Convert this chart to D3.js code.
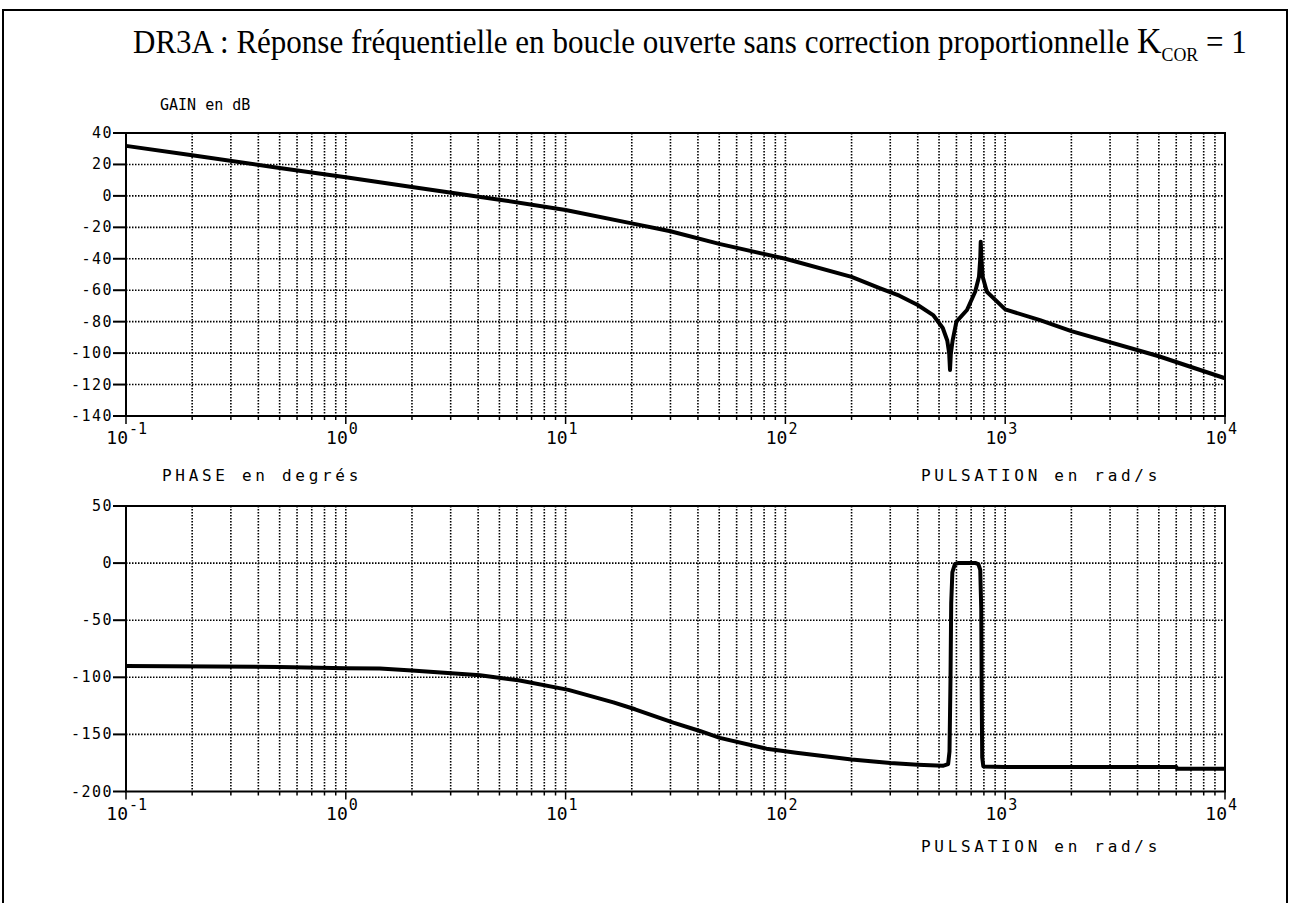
<!DOCTYPE html>
<html>
<head>
<meta charset="utf-8">
<script src="https://cdn.jsdelivr.net/npm/d3@7"></script>
<style>
  body { margin: 0; background: #fff; }
  svg { display: block; }
  .lbl { font-family: "DejaVu Sans Mono", monospace; font-size: 16px; letter-spacing: 3.7px; fill: #000; }
  .lbl2 { font-family: "DejaVu Sans Mono", monospace; font-size: 15px; letter-spacing: 0px; fill: #000; }
  .tick { font-family: "DejaVu Sans Mono", monospace; font-size: 15px; letter-spacing: 1.5px; fill: #000; }
  .dec { font-family: "DejaVu Sans Mono", monospace; fill: #000; }
</style>
</head>
<body>
<script>
// gain curve (rad/s, dB)
var gainW  = [0.1, 0.2, 0.5, 1, 2, 5, 10, 20, 30, 50, 100, 200, 270, 330, 400, 470, 520, 545, 556, 561,
              566, 577, 600, 670, 730, 760, 770, 774, 779, 790, 825, 1000, 1440, 2000, 5000, 10000];
var gainDb = [31.8, 25.8, 17.8, 11.8, 5.7, -2.4, -9, -17.5, -22.5, -30.5, -40, -51.5, -58.8, -63.5, -69.4, -75.8, -84, -92, -100, -110.7,
              -100, -91.7, -80, -72.6, -61, -51.4, -40, -29.1, -40, -51.4, -61, -72.2, -79, -86, -102, -116];

// phase curve (rad/s, degrees)
var phaseW   = [0.1, 0.5, 1, 1.43, 2, 4.08, 6.1, 10.3, 16.5, 20.7, 30.9, 40.8, 50.3, 82, 112, 200, 300, 400, 520,
                550, 558, 564, 568, 575, 590, 610, 735, 755, 770, 778, 782, 786, 795, 1000, 6000, 6050, 10000];
var phaseDeg = [-90, -91, -92, -92.4, -94, -98.2, -102.6, -111, -122, -128, -139.7, -147, -153, -162.5, -166, -172, -175, -176.5, -177.5,
                -176, -165, -100, -35, -8, -1, 0, 0, -1, -6, -40, -120, -170, -178, -178.5, -178.5, -180, -180];

var gainTicks  = [40, 20, 0, -20, -40, -60, -80, -100, -120, -140];
var phaseTicks = [50, 0, -50, -100, -150, -200];
var decades    = [-1, 0, 1, 2, 3, 4];

var W = 1291, H = 903;
var svg = d3.select("body").append("svg").attr("width", W).attr("height", H);

// outer frame of the document
svg.append("rect").attr("x", 3).attr("y", 10).attr("width", 1284).attr("height", 920)
    .attr("fill", "none").attr("stroke", "#000").attr("stroke-width", 2);

// title
var title = svg.append("text")
    .attr("font-family", "Liberation Serif, Times New Roman, serif")
    .attr("font-size", 33).attr("fill", "#000");
title.append("tspan").text("DR3A : Réponse fréquentielle en boucle ouverte sans correction proportionnelle ");
title.append("tspan").attr("font-size", 36).text("K");
title.append("tspan").attr("font-size", 19).attr("dy", 8).text("COR");
title.append("tspan").attr("dy", -8).text(" = 1");
var tw = title.node().getComputedTextLength();
title.attr("transform", "translate(133,53) scale(" + (1114 / tw) + ",1)");

var x = d3.scaleLog().domain([0.1, 1e4]).range([126, 1225]);

// all grid positions 1..9 x 10^k
var minor = [];
decades.forEach(function(k) {
  for (var m = 1; m < 10; m++) {
    var v = m * Math.pow(10, k);
    if (v <= 1e4) minor.push({v: v, major: m === 1});
  }
});

function panel(y, yTicks, wArr, vArr) {
  var g = svg.append("g");
  var x0 = x.range()[0], x1 = x.range()[1];
  var yTop = y.range()[1], yBot = y.range()[0];

  // dotted grid
  g.selectAll(".vg").data(minor.filter(function(d) { return d.v > 0.1 && d.v < 1e4; }))
    .enter().append("line")
      .attr("x1", function(d) { return x(d.v); }).attr("x2", function(d) { return x(d.v); })
      .attr("y1", yTop).attr("y2", yBot)
      .attr("stroke", "#000").attr("stroke-width", 1.6).attr("stroke-dasharray", "1.5,1.5");
  g.selectAll(".hg").data(yTicks.slice(1, -1))
    .enter().append("line")
      .attr("x1", x0).attr("x2", x1)
      .attr("y1", function(d) { return y(d); }).attr("y2", function(d) { return y(d); })
      .attr("stroke", "#000").attr("stroke-width", 1.6).attr("stroke-dasharray", "1.5,1.5");

  // frame
  g.append("rect").attr("x", x0).attr("y", yTop).attr("width", x1 - x0).attr("height", yBot - yTop)
    .attr("fill", "none").attr("stroke", "#000").attr("stroke-width", 2);

  // y ticks + labels
  g.selectAll(".yt").data(yTicks).enter().append("line")
    .attr("x1", x0 - 13).attr("x2", x0)
    .attr("y1", function(d) { return y(d); }).attr("y2", function(d) { return y(d); })
    .attr("stroke", "#000").attr("stroke-width", 2);
  g.selectAll(".yl").data(yTicks).enter().append("text")
    .attr("class", "tick")
    .attr("x", 113).attr("y", function(d) { return y(d) + 5; })
    .attr("text-anchor", "end")
    .text(function(d) { return d; });

  // x ticks (downwards)
  g.selectAll(".xt").data(minor).enter().append("line")
    .attr("x1", function(d) { return x(d.v); }).attr("x2", function(d) { return x(d.v); })
    .attr("y1", yBot).attr("y2", function(d) { return yBot + (d.major ? 8 : 4); })
    .attr("stroke", "#000").attr("stroke-width", 1.5);

  // decade labels 10^k
  decades.forEach(function(k) {
    var px = x(Math.pow(10, k));
    g.append("text").attr("class", "dec").attr("font-size", 18)
      .attr("x", px + 2).attr("y", yBot + 28).attr("text-anchor", "end").text("10");
    g.append("text").attr("class", "dec").attr("font-size", 15)
      .attr("x", px + 3).attr("y", yBot + 18).text(k < 0 ? "-" + (-k) : k);
  });

  // curve
  var line = d3.line()
    .x(function(d, i) { return x(wArr[i]); })
    .y(function(d, i) { return y(vArr[i]); });
  g.append("path").datum(vArr)
    .attr("d", line)
    .attr("fill", "none").attr("stroke", "#000").attr("stroke-width", 4)
    .attr("stroke-linejoin", "round");
}

var yG = d3.scaleLinear().domain([-140, 40]).range([416, 133]);
var yP = d3.scaleLinear().domain([-200, 50]).range([791.5, 506]);

panel(yG, gainTicks, gainW, gainDb);
panel(yP, phaseTicks, phaseW, phaseDeg);

// axis titles
svg.append("text").attr("class", "lbl2").attr("x", 160).attr("y", 110).text("GAIN en dB");
svg.append("text").attr("class", "lbl").attr("x", 162).attr("y", 481).text("PHASE en degrés");
svg.append("text").attr("class", "lbl").attr("x", 921).attr("y", 481).text("PULSATION en rad/s");
svg.append("text").attr("class", "lbl").attr("x", 921).attr("y", 852).text("PULSATION en rad/s");
</script>
</body>
</html>
